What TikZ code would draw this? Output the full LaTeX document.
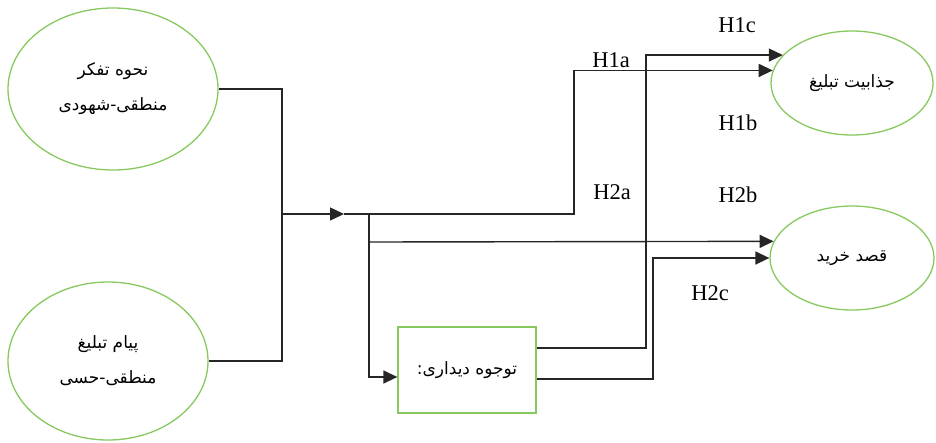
\documentclass[tikz,border=0pt]{standalone}
\usepackage{fontspec}
\setmainfont{Liberation Serif}
\newfontfamily\arabicfont[Script=Arabic]{DejaVu Sans}
\TeXXeTstate=1
\usetikzlibrary{shapes.geometric, arrows.meta, positioning}

\definecolor{boxgreen}{RGB}{135,200,95}
\tikzset{
  var/.style={ellipse, draw=boxgreen, line width=1.3pt, inner sep=0pt,
    align=center, font=\arabicfont\fontsize{17}{35}\selectfont},
  medbox/.style={rectangle, draw=boxgreen, line width=1.3pt, inner sep=0pt,
    align=center, font=\arabicfont\fontsize{17}{35}\selectfont},
  link/.style={draw=black!85, line width=1.4pt},
  tip/.style={link, -{Triangle[length=14pt,width=13pt]}},
  hyp/.style={font=\fontsize{22.5}{26}\selectfont, inner sep=0pt}
}

\begin{document}
\begin{tikzpicture}[x=1pt, y=-1pt]
        \useasboundingbox (0,0) rectangle (936,442);
        % variables
        \node[var, minimum width=210pt, minimum height=162pt] (think) at (113,89)
          {\beginR نحوه تفکر\endR\\ \beginR منطقی-شهودی\endR};
        \node[var, minimum width=200pt, minimum height=158pt] (msg) at (108,361)
          {\beginR پیام تبلیغ\endR\\ \beginR منطقی-حسی\endR};
        \node[var, minimum width=162pt, minimum height=104pt] (attr) at (852,83)
          {\beginR جذابیت تبلیغ\endR};
        \node[var, minimum width=164pt, minimum height=104pt] (buy) at (852,258)
          {\beginR قصد خرید\endR};
        \node[medbox, minimum width=138pt, minimum height=86pt] (vis) at (467,370)
          {\beginR توجوه دیداری:\endR};
        % junctions
        \coordinate (join) at (282,214);
        \coordinate (mid) at (344,214);
        \coordinate (fork) at (369,214);
        \draw[link] (think.east) -| (join);
        \draw[link] (msg.east) -| (join);
        \draw[tip] (join) -- (mid);
        \draw[link] (mid) -- (fork);
        \draw[tip] (fork) -- (574,214) |- (attr.171);
        \draw[tip] (fork) -- (369,242) -- (buy.168);
        \draw[tip] (fork) |- ([yshift=-7pt]vis.west);
        \draw[tip] ([yshift=22pt]vis.east) -- (646,348) |- (attr.158);
        \draw[tip] ([yshift=-9pt]vis.east) -- (653,379) |- (buy.west);
        % labels
        \node[hyp] (h1c) at (737,25) {H1c};
        \node[hyp] (h1a) at (611,60) {H1a};
        \node[hyp] (h1b) at (738,123) {H1b};
        \node[hyp] (h2a) at (612,192) {H2a};
        \node[hyp] (h2b) at (738,195) {H2b};
        \node[hyp] (h2c) at (710,293) {H2c};
    \end{tikzpicture}
\end{document}
